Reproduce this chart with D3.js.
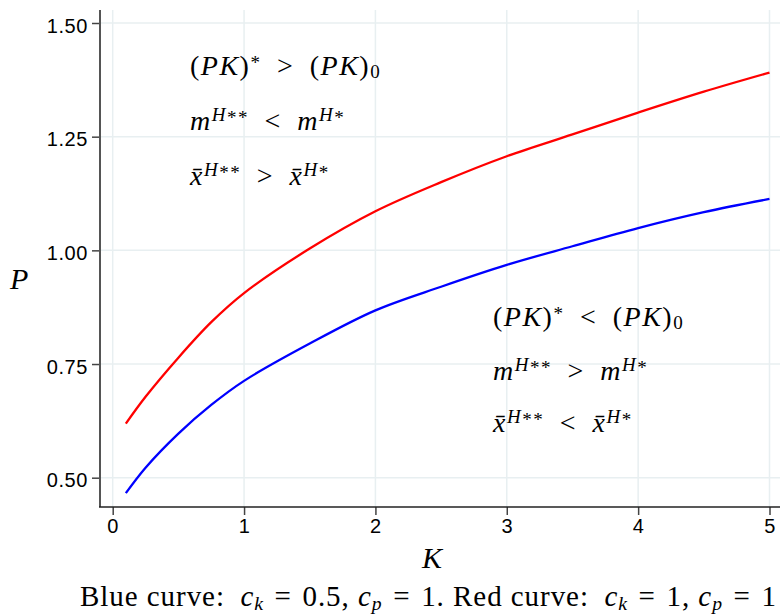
<!DOCTYPE html>
<html lang="en">
<head>
  <meta charset="UTF-8">
  <title>P against K</title>
  <script src="https://cdn.jsdelivr.net/npm/d3@7"></script>
  <style>
    body { margin: 0; background: #fff; }
    .tick text { font-family: "Liberation Sans", Arial, sans-serif; font-size: 20px; letter-spacing: 0.6px; fill: #000; }
    .math { font-family: "Liberation Serif", "Times New Roman", serif; fill: #000; }
  </style>
</head>
<body>
  <svg width="780" height="616"></svg>
  <script>
    // values
    let kValues = [0.1, 0.25, 0.5, 0.75, 1, 1.5, 2, 2.5, 3, 3.5, 4, 4.5, 5];
    let bluePs = [0.466, 0.522, 0.597, 0.660, 0.713, 0.795, 0.868, 0.920, 0.968, 1.009, 1.049, 1.084, 1.113];
    let redPs  = [0.619, 0.678, 0.764, 0.842, 0.906, 1.004, 1.086, 1.150, 1.207, 1.255, 1.303, 1.349, 1.391];
    let xTicks = [0, 1, 2, 3, 4, 5];
    let yTicks = [0.5, 0.75, 1.0, 1.25, 1.5];

    let svg = d3.select('svg');
    let x = d3.scaleLinear().domain([0, 5]).range([112.7, 769.5]);
    let y = d3.scaleLinear().domain([0.5, 1.5]).range([477.7, 23]);
    let plotLeft = 100, plotBottom = 507, plotTop = 10, plotRight = 780;

    // grid
    svg.append('g').selectAll('line')
      .data(xTicks).join('line')
      .attr('x1', d => x(d)).attr('x2', d => x(d))
      .attr('y1', plotTop).attr('y2', plotBottom)
      .attr('stroke', '#e8eff1').attr('stroke-width', 1.5);
    svg.append('g').selectAll('line')
      .data(yTicks).join('line')
      .attr('x1', plotLeft).attr('x2', plotRight)
      .attr('y1', d => y(d)).attr('y2', d => y(d))
      .attr('stroke', '#e8eff1').attr('stroke-width', 1.5);

    // axes
    let yAxis = svg.append('g')
      .attr('transform', `translate(${plotLeft},0)`)
      .call(d3.axisLeft(y).tickValues(yTicks).tickFormat(d3.format('.2f')).tickSize(8).tickPadding(4));
    yAxis.select('.domain').remove();
    yAxis.selectAll('.tick line').attr('stroke', '#444').attr('stroke-width', 1.5);
    yAxis.selectAll('.tick text').attr('dy', '0.46em');
    svg.append('line').attr('x1', plotLeft).attr('x2', plotLeft).attr('y1', plotTop).attr('y2', plotBottom)
      .attr('stroke', '#555').attr('stroke-width', 2);

    let xAxis = svg.append('g')
      .attr('transform', `translate(0,${plotBottom})`)
      .call(d3.axisBottom(x).tickValues(xTicks).tickFormat(d3.format('d')).tickSize(8).tickPadding(4));
    xAxis.select('.domain').remove();
    xAxis.selectAll('.tick line').attr('stroke', '#444').attr('stroke-width', 1.5);
    svg.append('line').attr('x1', plotLeft - 1).attr('x2', plotRight).attr('y1', plotBottom).attr('y2', plotBottom)
      .attr('stroke', '#222').attr('stroke-width', 1.5);

    // curves
    let line = d3.line()
      .x((d, i) => x(kValues[i]))
      .y(d => y(d))
      .curve(d3.curveCatmullRom);
    svg.append('path').datum(bluePs).attr('d', line)
      .attr('fill', 'none').attr('stroke', '#0000ff').attr('stroke-width', 2.3);
    svg.append('path').datum(redPs).attr('d', line)
      .attr('fill', 'none').attr('stroke', '#ff0000').attr('stroke-width', 2.3);

    // math text: segments [text, kind]; kinds r, i, sup, supi, star, sub, subi
    let raise = { r: 0, i: 0, sup: 0.32, supi: 0.32, star: 0.2, sub: -0.12, subi: -0.15 };
    function mathText(px, py, size, segs, spacing) {
      let t = svg.append('text').attr('class', 'math')
        .attr('x', px).attr('y', py).attr('font-size', size)
        .attr('letter-spacing', spacing || 0);
      let cur = 0;
      segs.forEach(s => {
        let kind = s[1];
        let r = raise[kind] * size;
        t.append('tspan').text(s[0])
          .attr('dy', cur - r)
          .attr('font-size', (kind === 'r' || kind === 'i') ? size : size * 0.68)
          .attr('font-style', kind.endsWith('i') ? 'italic' : 'normal');
        cur = r;
      });
      return t;
    }

    let fs = 28, sp = '\u2002';
    let pkLine = rel => [['(', 'r'], ['PK', 'i'], [')', 'r'], ['*', 'star'], [sp + rel + sp + '(', 'r'], ['PK', 'i'], [')', 'r'], ['0', 'sub']];
    let mLine = rel => [['m', 'i'], ['H', 'supi'], ['**', 'star'], [sp + rel + sp, 'r'], ['m', 'i'], ['H', 'supi'], ['*', 'star']];
    let xLine = rel => [['x\u0304', 'i'], ['H', 'supi'], ['**', 'star'], [sp + rel + sp, 'r'], ['x\u0304', 'i'], ['H', 'supi'], ['*', 'star']];

    mathText(190, 75, fs, pkLine('>'), 1.5);
    mathText(190, 130, fs, mLine('<'), 1.5);
    mathText(190, 185, fs, xLine('>'), 1.5);

    mathText(493, 326, fs, pkLine('<'), 1.5);
    mathText(493, 380, fs, mLine('>'), 1.5);
    mathText(493, 432, fs, xLine('<'), 1.5);

    // axis titles
    mathText(10, 289, 30, [['P', 'i']]);
    mathText(422, 568, 30, [['K', 'i']]);

    // caption
    let eq = '\u2004=\u2004';
    mathText(80, 606, 29, [['Blue curve:\u2002', 'r'], ['c', 'i'], ['k', 'subi'], [eq + '0.5, ', 'r'], ['c', 'i'], ['p', 'subi'],
      [eq + '1.  Red curve:\u2002', 'r'], ['c', 'i'], ['k', 'subi'], [eq + '1, ', 'r'], ['c', 'i'], ['p', 'subi'], [eq + '1', 'r']], 0.95);
  </script>
</body>
</html>
